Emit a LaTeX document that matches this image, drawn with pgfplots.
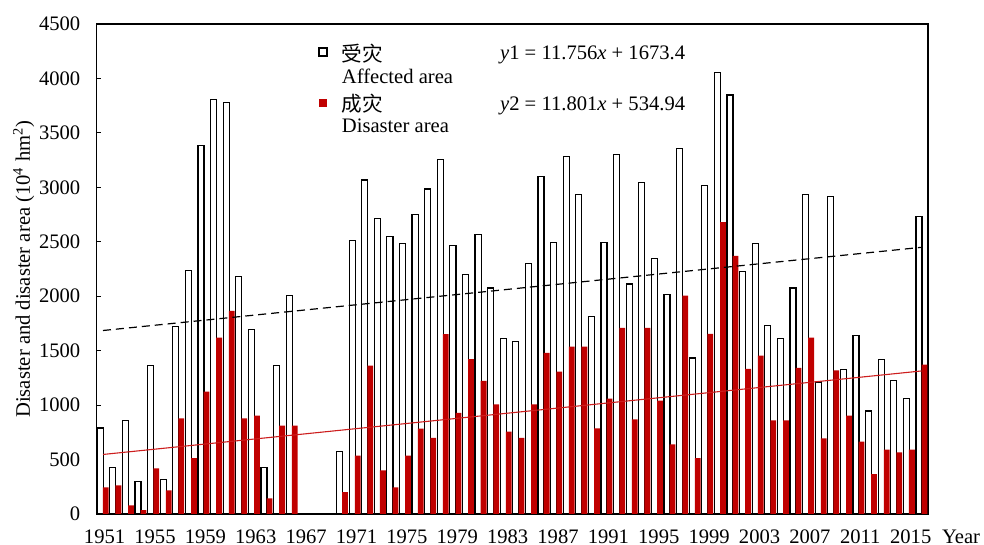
\documentclass[border=0pt]{standalone}
\usepackage{fontspec}
\setmainfont{Liberation Serif}
\newfontfamily\cjk{Noto Sans CJK SC}
\usepackage{pgfplots}
\usepackage{pgfplotstable}
\pgfplotsset{compat=1.18}
\definecolor{barred}{RGB}{192,0,0}
\definecolor{linered}{RGB}{205,30,30}
\pgfplotstableread{
idx year A D
1 1951 789 245
2 1952 426 264
3 1953 862 80
4 1954 302 35
5 1955 1365 420
6 1956 315 216
7 1957 1719 878
8 1958 2237 512
9 1959 3383 1123
10 1960 3803 1620
11 1961 3781 1865
12 1962 2183 878
13 1963 1693 904
14 1964 426 143
15 1965 1365 812
16 1966 2005 812
20 1970 576 200
21 1971 2511 535
22 1972 3068 1362
23 1973 2715 401
24 1974 2549 245
25 1975 2482 535
26 1976 2753 783
27 1977 2985 700
28 1978 3259 1652
29 1979 2466 929
30 1980 2196 1423
31 1981 2565 1222
32 1982 2075 1006
33 1983 1610 757
34 1984 1585 700
35 1985 2304 1006
36 1986 3096 1480
37 1987 2495 1308
38 1988 3284 1537
39 1989 2931 1537
40 1990 1817 786
41 1991 2495 1060
42 1992 3300 1709
43 1993 2113 869
44 1994 3042 1709
45 1995 2349 1041
46 1996 2018 640
47 1997 3354 2005
48 1998 1432 512
49 1999 3017 1655
50 2000 4051 2680
51 2001 3848 2371
52 2002 2224 1333
53 2003 2482 1454
54 2004 1731 859
55 2005 1610 859
56 2006 2075 1343
57 2007 2931 1620
58 2008 1213 694
59 2009 2918 1318
60 2010 1324 904
61 2011 1636 665
62 2012 945 366
63 2013 1416 592
64 2014 1228 566
65 2015 1063 592
66 2016 2730 1372
}\datatable
\begin{document}
\begin{tikzpicture}[font=\fontsize{10.3}{12.4}\selectfont]
\useasboundingbox (-48.35pt,-15.5pt) rectangle (443.65pt,257pt);
\begin{axis}[
  scale only axis,
  width=415.65pt, height=245pt,
  xmin=0.5, xmax=66.5,
  ymin=0, ymax=4500,
  ytick={0,500,...,4500},
  xtick={1,5,...,65},
  xticklabels={1951,1955,1959,1963,1967,1971,1975,1979,1983,1987,1991,1995,1999,2003,2007,2011,2015},
  /pgf/number format/assume math mode=true,
  /pgf/number format/1000 sep={},
  tick label style={font=\fontsize{10.3}{12.4}\selectfont},
  label style={font=\fontsize{10.3}{12.4}\selectfont},
  yticklabel style={anchor=east, inner sep=0pt, xshift=-8pt},
  xticklabel style={anchor=north, inner sep=0pt, yshift=-7.7pt, xshift=0.8pt},
  xtick style={draw=none},
  ytick pos=left,
  tick align=inside,
  major tick length=2.2pt,
  tick style={line width=0.6pt, black},
  axis line style={line width=0.6pt},
  xlabel={Year},
  xlabel style={at={(rel axis cs:1,0)}, anchor=north west, inner sep=0pt, xshift=6.85pt, yshift=-7.7pt},
  ylabel={Disaster and disaster area (10\textsuperscript{4} hm\textsuperscript{2})},
  ylabel style={at={(rel axis cs:0,0.5)}, anchor=north, inner sep=0pt, yshift=42pt},
  clip=false,
]
\addplot[ybar, bar width=0.48, bar shift=-0.22, fill=white, draw=black, line width=0.6pt] table[x=idx, y=A] {\datatable};
\addplot[ybar, bar width=0.46, bar shift=0.22, fill=barred, draw=none] table[x=idx, y=D] {\datatable};
\addplot[black, line width=0.6pt, dash pattern=on 4pt off 2.5pt] coordinates {(1,1685.156) (66,2449.296)};
\addplot[linered, line width=0.55pt] coordinates {(1,546.741) (66,1313.806)};
\node[draw=black, line width=0.75pt, fill=white, minimum size=3.9pt, inner sep=0pt] at (axis cs:18.46,4243) {};
\node[fill=barred, minimum size=4.4pt, inner sep=0pt] at (axis cs:18.46,3775) {};
\node[anchor=base west, inner sep=0pt] at (axis cs:19.94,4160) {\cjk 受灾};
\node[anchor=base west, inner sep=0pt] at (axis cs:19.94,3958) {Affected area};
\node[anchor=base west, inner sep=0pt] at (axis cs:19.94,3701) {\cjk 成灾};
\node[anchor=base west, inner sep=0pt] at (axis cs:19.94,3508) {Disaster area};
\node[anchor=base west, inner sep=0pt] at (axis cs:32.5,4170) {\textit{y}1 = 11.756\textit{x} + 1673.4};
\node[anchor=base west, inner sep=0pt] at (axis cs:32.5,3710) {\textit{y}2 = 11.801\textit{x} + 534.94};
\end{axis}
\end{tikzpicture}
\end{document}
